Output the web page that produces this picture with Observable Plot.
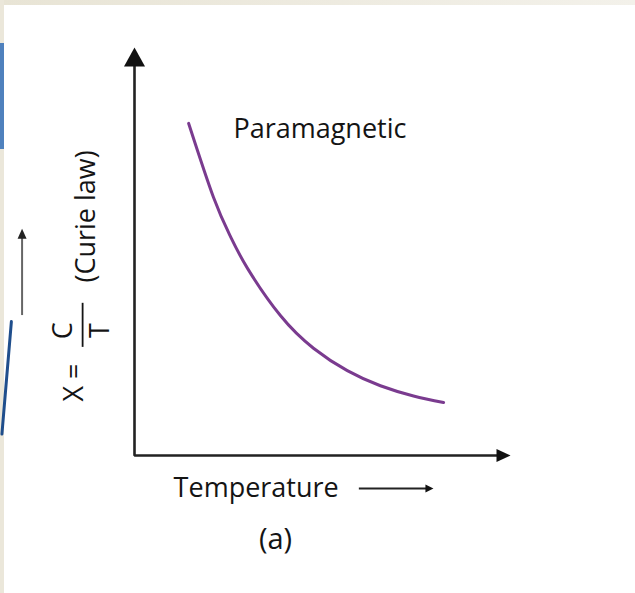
<!DOCTYPE html>
<html><head><meta charset="utf-8">
<script src="https://cdn.jsdelivr.net/npm/d3@7"></script>
<script src="https://cdn.jsdelivr.net/npm/@observablehq/plot@0.6"></script>
<style>
html,body{margin:0;padding:0;background:#fff;}
#wrap{position:relative;width:635px;height:593px;overflow:hidden;background:#fff;}
#wrap svg{position:absolute;left:0;top:0;}
.deco{position:absolute;}
</style></head><body>
<div id="wrap"></div>
<script>
// ---- data (arbitrary units) ----
const temperature    = [14.4, 21.0, 25.5, 30.1, 38.8, 47.6, 56.6, 65.4, 74.2, 82.2];
const susceptibility = [81.4, 63.3, 53.7, 45.8, 34.3, 26.3, 20.8, 17.1, 14.6, 13.0];
const curveLabel = "Paramagnetic";
const xLabel = "Temperature";
const yLabelLeft = "X =";
const yLabelNum = "C";
const yLabelDen = "T";
const yLabelRight = "(Curie law)";
const caption = "(a)";

const curve = temperature.map((t, i) => ({t, chi: susceptibility[i]}));

const ink = "#141414";
const purple = "#7a3b8f";
const font = "'Open Sans', 'Noto Sans', sans-serif";

const arrowUp = (w, L) => ({draw(c){ c.moveTo(0,0); c.lineTo(-w/2, L); c.lineTo(w/2, L); c.closePath(); }});
const arrowRight = (w, L) => ({draw(c){ c.moveTo(0,0); c.lineTo(-L, -w/2); c.lineTo(-L, w/2); c.closePath(); }});

const axisPath = [{x: 0, y: 96}, {x: 0, y: 0}, {x: 97, y: 0}];

const chart = Plot.plot({
  width: 635,
  height: 593,
  marginLeft: 134,
  marginRight: 125,
  marginTop: 47,
  marginBottom: 138,
  style: {fontFamily: font, background: "transparent"},
  x: {domain: [0, 100], axis: null},
  y: {domain: [0, 100], axis: null},
  marks: [
    Plot.line(axisPath, {x: "x", y: "y", stroke: "#222", strokeWidth: 2.6, strokeLinejoin: "miter", strokeLinecap: "butt"}),
    Plot.dot([0], {x: 0, y: 100, symbol: arrowUp(21, 19), fill: "#111", stroke: null}),
    Plot.dot([0], {x: 100, y: 0, symbol: arrowRight(13, 14), fill: "#111", stroke: null}),
    Plot.line(curve, {x: "t", y: "chi", stroke: purple, strokeWidth: 3, curve: "natural", strokeLinecap: "round"}),
    Plot.text([curveLabel], {x: 26.3, y: 77.9, text: d => d, textAnchor: "start", lineAnchor: "bottom", fontSize: 27, fill: ink}),
    Plot.text([xLabel], {x: 10.4, y: -10.1, text: d => d, textAnchor: "start", lineAnchor: "bottom", fontSize: 27, fill: ink}),
    Plot.ruleY([-8.1], {x1: 59.8, x2: 78, stroke: "#222", strokeWidth: 2}),
    Plot.dot([0], {x: 79.5, y: -8.1, symbol: arrowRight(8, 8), fill: "#111", stroke: null}),
    Plot.text([caption], {x: 37.5, y: -23.0, text: d => d, textAnchor: "middle", lineAnchor: "bottom", fontSize: 29, fill: ink}),
    // rotated y-axis label
    Plot.text([yLabelRight], {x: -10.4, y: 58.6, text: d => d, rotate: -90, textAnchor: "middle", lineAnchor: "bottom", fontSize: 27, fill: ink}),
    Plot.text([yLabelLeft], {x: -13.8, y: 17.9, text: d => d, rotate: -90, textAnchor: "middle", lineAnchor: "bottom", fontSize: 27, fill: ink}),
    Plot.text([yLabelNum], {x: -16.5, y: 30.6, text: d => d, rotate: -90, textAnchor: "middle", lineAnchor: "bottom", fontSize: 27, fill: ink}),
    Plot.text([yLabelDen], {x: -6.9, y: 30.6, text: d => d, rotate: -90, textAnchor: "middle", lineAnchor: "bottom", fontSize: 27, fill: ink}),
    Plot.ruleX([-13.8], {y1: 26.5, y2: 37.3, stroke: ink, strokeWidth: 1.8}),
    // small direction arrow beside the y label
    Plot.ruleX([-29.9], {y1: 34.3, y2: 54, stroke: "#666", strokeWidth: 2}),
    Plot.dot([0], {x: -29.9, y: 55.6, symbol: arrowUp(9, 10), fill: "#222", stroke: null})
  ]
});

const wrap = document.getElementById("wrap");
wrap.appendChild(chart);

function deco(css) {
  const d = document.createElement("div");
  d.className = "deco";
  d.setAttribute("style", css);
  wrap.appendChild(d);
}
deco("left:0;top:0;width:635px;height:5px;background:linear-gradient(90deg,#e8e4d5,#f3f1ea);");
deco("left:0;top:0;width:4px;height:593px;background:#ebe7da;");
deco("left:0;top:43px;width:4px;height:106px;background:#4f81bd;");
deco("left:10px;top:320px;width:2.5px;height:116px;background:#1f4e8c;transform-origin:50% 0;transform:rotate(4.8deg);border-radius:2px;");
</script>
</body></html>
